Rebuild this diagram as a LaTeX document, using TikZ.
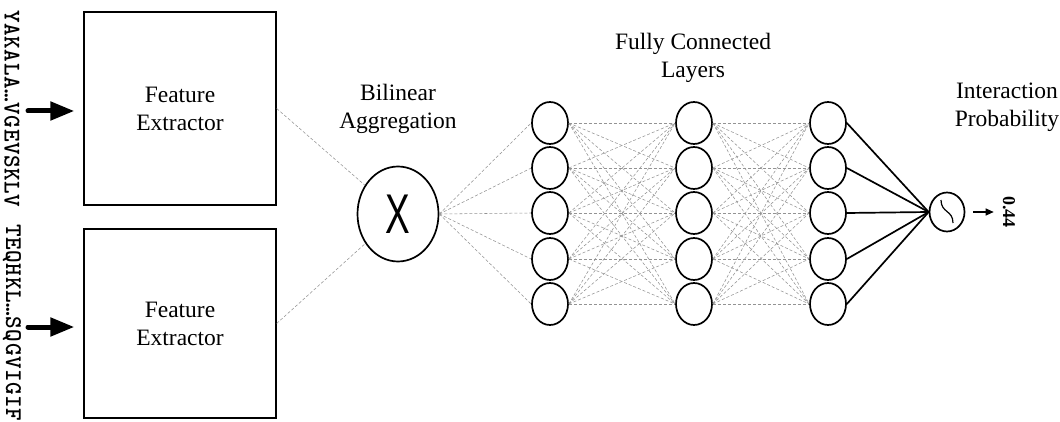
\documentclass[tikz,border=0pt]{standalone}
\usepackage{fontspec}
\setmainfont{Liberation Serif}
\newfontfamily\xfont{Liberation Sans}
\newfontfamily\seqfont[LetterSpace=2.4]{lmmonolt10-bold.otf}
\usetikzlibrary{shapes.geometric,arrows.meta}

\tikzset{
  extractor/.style={draw,line width=1.3pt,minimum width=192pt,minimum height=193pt,
    align=center,font=\fontsize{23.5}{28}\selectfont},
  unit/.style={draw,ellipse,line width=1.7pt,minimum width=36pt,minimum height=42pt,
    inner sep=0pt,fill=white},
  link/.style={gray!85,densely dashed,line width=0.55pt},
  heading/.style={align=center,font=\fontsize{23.5}{28}\selectfont},
  seqlabel/.style={rotate=-90,inner sep=0pt,font=\seqfont\fontsize{24}{24}\selectfont},
  inarrow/.style={line width=5pt,line cap=round,-{Triangle[length=24pt,width=18pt]}}
}

\begin{document}
\begin{tikzpicture}[x=1pt,y=-1pt,>=stealth]

    \useasboundingbox (0,0) rectangle (1060,422);

    % Sequences en entree
    \node[seqlabel] (seqA) at (12,109) {YAKALA…VGEVSKLV};
    \node[seqlabel] (seqB) at (12,323) {TEQHKL…SQGVIGIF};
    \coordinate (inA) at (28,111);
    \coordinate (inB) at (28,327);

    % Extracteurs
    \node[extractor] (fe1) at (180,108.5) {Feature\\Extractor};
    \node[extractor,minimum height=189pt] (fe2) at (180,323.5) {Feature\\Extractor};
    \draw[inarrow,shorten >=9pt] (inA) -- (inA -| fe1.west);
    \draw[inarrow,shorten >=9pt] (inB) -- (inB -| fe2.west);

    % Agregation bilineaire
    \node[heading] (bilTitle) at (398,109) {Bilinear\\Aggregation};
    \node[draw,ellipse,line width=1.7pt,minimum width=81pt,minimum height=95pt,inner sep=0pt]
      (bil) at (398,214) {\xfont\fontsize{56}{56}\selectfont\scalebox{0.66}[1]{X}};
    \draw[link] (fe1.east) -- (bil);
    \draw[link] (fe2.east) -- (bil);

    % Couches entierement connectees
    \node[heading] (fcTitle) at (693,58) {Fully Connected\\Layers};
    \foreach \i/\y in {1/123,2/168,3/213,4/259,5/304} {
        \node[unit] (a\i) at (550,\y) {};
        \node[unit] (b\i) at (694,\y) {};
        \node[unit] (c\i) at (828,\y) {};
    }
    \foreach \i in {1,...,5} {
        \draw[link] (bil.east) -- (a\i.west);
        \foreach \j in {1,...,5} {
            \draw[link] (a\i.east) -- (b\j.west);
            \draw[link] (b\i.east) -- (c\j.west);
        }
    }

    % Sortie
    \node[heading] (outTitle) at (1007,107) {Interaction\\Probability};
    \node[draw,ellipse,line width=1.7pt,minimum width=35pt,minimum height=39pt,inner sep=0pt]
      (out) at (947,212) {};
    \draw[line width=1.2pt] ([shift={(-6,-12)}]out.center) .. controls +(0,13) and +(0,-13) .. ([shift={(6,11)}]out.center);
    \foreach \i in {1,...,5}
        \draw[line width=1.7pt] (c\i.east) -- (out.west);
    \node[rotate=-90,inner sep=0pt,font=\bfseries\fontsize{18}{18}\selectfont] (prob) at (1009,212) {0.44};
    \draw[-{Triangle[length=8pt,width=7pt]},line width=1.2pt,shorten <=8pt,shorten >=9pt] (out) -- (prob);

\end{tikzpicture}
\end{document}
